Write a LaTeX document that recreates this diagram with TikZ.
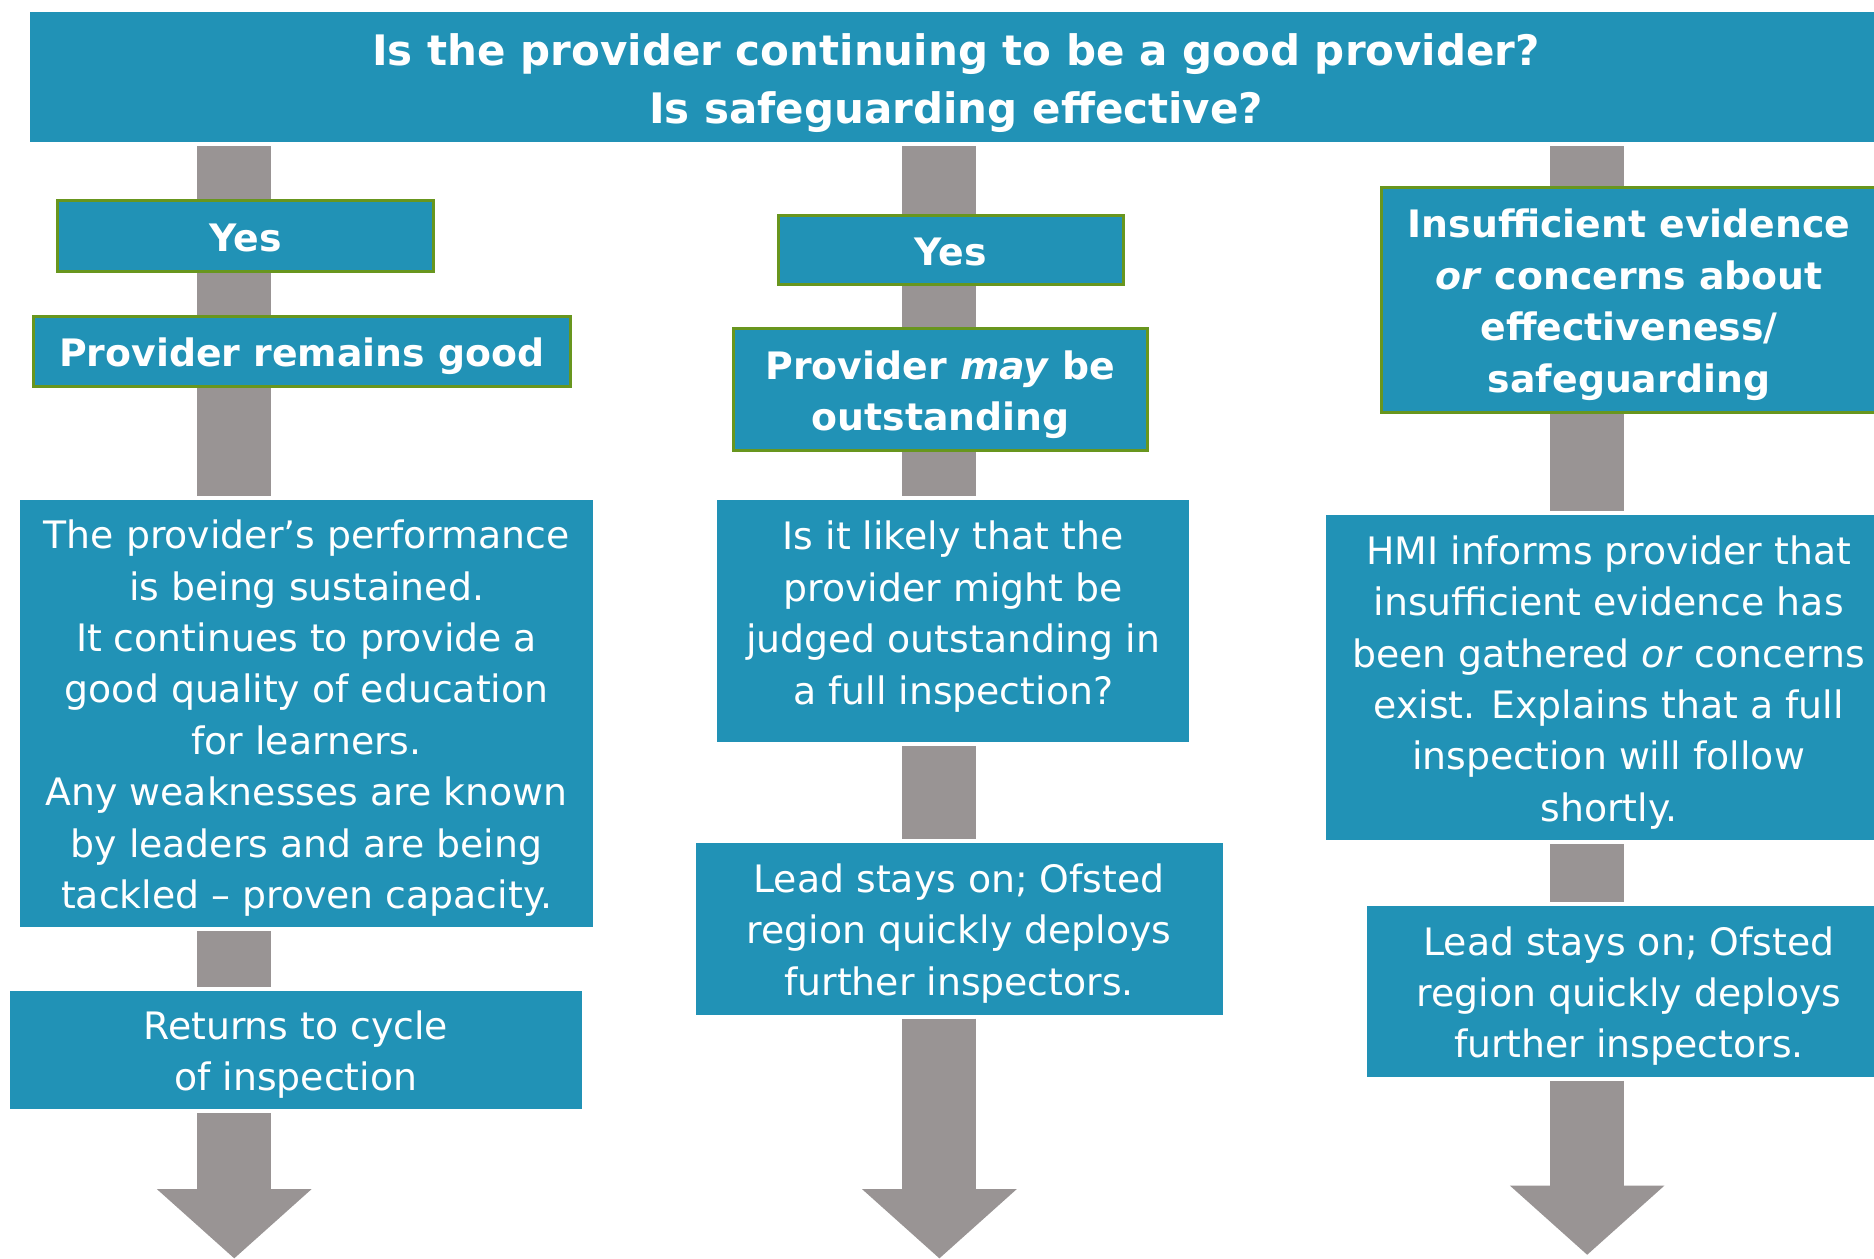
\documentclass[tikz,border=0pt]{standalone}
\usepackage{fontspec}
\setmainfont{DejaVu Sans}
\usetikzlibrary{arrows.meta,backgrounds}
\definecolor{ofteal}{RGB}{33,146,182}
\definecolor{ofgray}{RGB}{153,148,148}
\definecolor{ofgreen}{RGB}{104,150,30}
\newcommand{\lowtext}[2][2.3pt]{\raisebox{-#1}[\height][\depth]{\begin{tabular}{@{}c@{}}#2\end{tabular}}}
\tikzset{
  box/.style={fill=ofteal, text=white, inner sep=0pt, align=center,
    font=\fontsize{18}{24.5}\selectfont},
  gbox/.style={box, draw=ofgreen, line width=0.05cm,
    font=\fontsize{18}{24.5}\selectfont\bfseries},
  bannerbox/.style={fill=ofteal, text=white, inner sep=0pt, align=center,
    font=\fontsize{20}{27.9}\selectfont\bfseries},
  shaft/.style={draw=ofgray, line width=1.24cm, shorten <=0.06cm, shorten >=0.06cm},
  bigarrow/.style={shaft, shorten >=0pt, -{Triangle[length=1.16cm,width=2.52cm]}}
}
\begin{document}
\begin{tikzpicture}[x=0.02cm,y=-0.02cm]
\clip (0,0) rectangle (1568,1053);
\coordinate (c1) at (196,0);
\coordinate (c2) at (786,0);
\coordinate (c3) at (1328,0);
\coordinate (end1) at (196,1053);
\coordinate (end2) at (786,1053);
\coordinate (end3) at (1328,1050);

\node[bannerbox, minimum width=31cm, minimum height=2.18cm]
  (banner) at (800,64.5) {\lowtext[2.8pt]{Is the provider continuing to be a good provider?\\Is safeguarding effective?}};

% column 1
\node[gbox, minimum width=6.30cm, minimum height=1.18cm] (yes1) at (205.5,197.5) {\lowtext[2.7pt]{Yes}};
\node[gbox, minimum width=8.98cm, minimum height=1.16cm] (good1) at (252.5,294) {\lowtext{Provider remains good}};
\node[box, minimum width=9.58cm, minimum height=7.16cm] (perf1) at (256.5,597)
  {\lowtext{The provider’s performance\\is being sustained.\\It continues to provide a\\good quality of education\\for learners.\\Any weaknesses are known\\by leaders and are being\\tackled – proven capacity.}};
\node[box, minimum width=9.58cm, minimum height=1.98cm] (ret1) at (247.5,878.5) {\lowtext{Returns to cycle\\of inspection}};

% column 2
\node[gbox, minimum width=5.78cm, minimum height=1.16cm] (yes2) at (795.5,209) {\lowtext[2.7pt]{Yes}};
\node[gbox, minimum width=6.92cm, minimum height=2.04cm] (may2) at (787,326) {\lowtext{Provider \textit{may} be\\outstanding}};
\node[box, minimum width=7.90cm, minimum height=4.06cm] (q2) at (797.5,519.5)
  {\lowtext[-2pt]{Is it likely that the\\provider might be\\judged outstanding in\\a full inspection?}};
\node[box, minimum width=8.82cm, minimum height=2.88cm] (lead2) at (802.5,777)
  {\lowtext{Lead stays on; Ofsted\\region quickly deploys\\further inspectors.}};

% column 3
\node[gbox, minimum width=8.28cm, minimum height=3.76cm] (ins3) at (1363,251)
  {\lowtext{Insufficient evidence\\\textit{or} concerns about\\effectiveness/\\safeguarding}};
\node[box, minimum width=9.48cm, minimum height=5.44cm] (hmi3) at (1346,567)
  {\lowtext{HMI informs provider that\\insufficient evidence has\\been gathered \textit{or} concerns\\exist. Explains that a full\\inspection will follow\\shortly.}};
\node[box, minimum width=8.76cm, minimum height=2.86cm] (lead3) at (1363,829.5)
  {\lowtext{Lead stays on; Ofsted\\region quickly deploys\\further inspectors.}};

\begin{pgfonlayer}{background}
\fill[white] (0,0) rectangle (1568,1053);
\draw[shaft] (banner.south -| c1) -- (perf1.north -| c1);
\draw[shaft] (perf1.south -| c1) -- (ret1.north -| c1);
\draw[bigarrow] (ret1.south -| c1) -- (end1);
\draw[shaft] (banner.south -| c2) -- (q2.north -| c2);
\draw[shaft] (q2.south -| c2) -- (lead2.north -| c2);
\draw[bigarrow] (lead2.south -| c2) -- (end2);
\draw[shaft] (banner.south -| c3) -- (hmi3.north -| c3);
\draw[shaft] (hmi3.south -| c3) -- (lead3.north -| c3);
\draw[bigarrow] (lead3.south -| c3) -- (end3);
\end{pgfonlayer}
\end{tikzpicture}
\end{document}
